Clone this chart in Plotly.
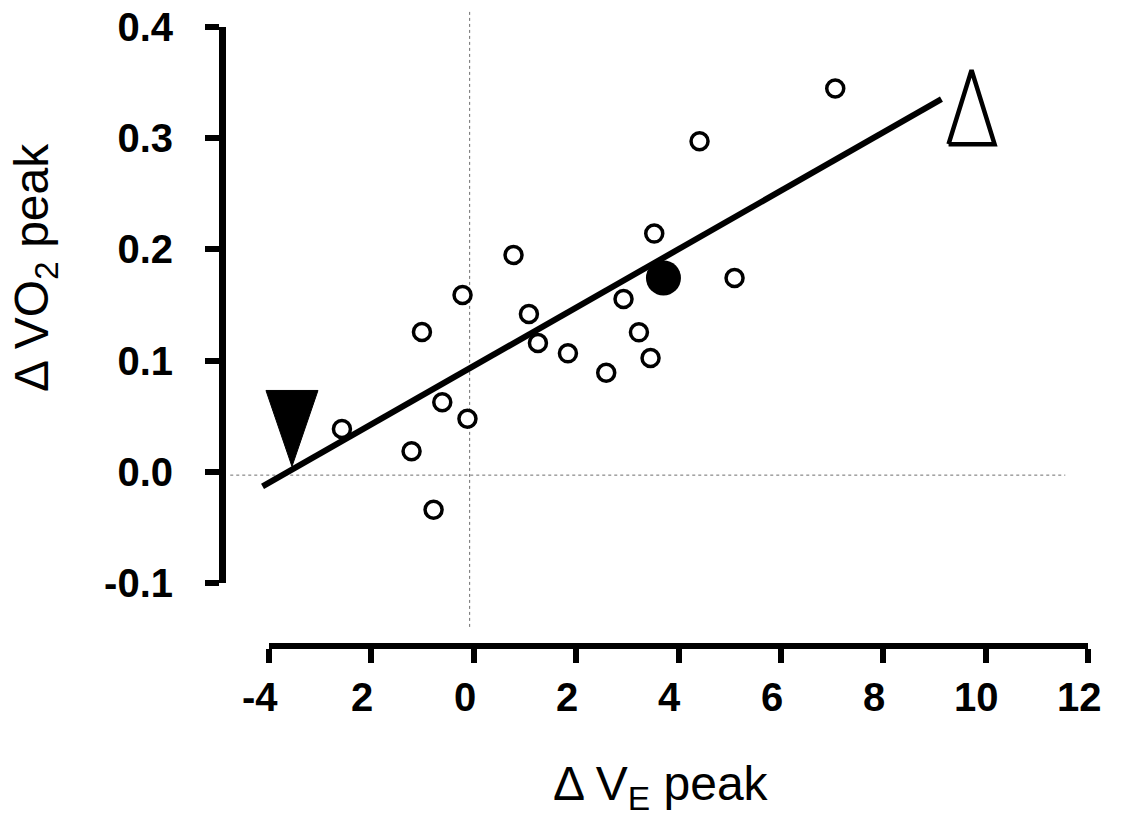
import plotly.graph_objects as go

# ---------------- data ----------------
open_x = [-2.575, -1.215, -0.785, -1.012, -0.615, -0.123, -0.219, 0.777, 1.078, 1.254,
          1.840, 2.588, 2.926, 3.227, 3.454, 3.526, 4.411, 5.095, 7.062]
open_y = [0.0384, 0.0185, -0.0342, 0.1257, 0.0626, 0.0477, 0.159, 0.195, 0.1419, 0.1158,
          0.1065, 0.0891, 0.1554, 0.1254, 0.1023, 0.2142, 0.2973, 0.1743, 0.3447]
filled_x = [3.706]
filled_y = [0.1743]
fit_x = [-4.126, 9.137]
fit_y = [-0.0132, 0.3351]
# apex positions of the two triangle symbols
tri_down_apex = (-3.551, 0.0048)
tri_up_apex = (9.725, 0.3612)
# dotted reference lines
vline_x = -0.08
vline_y = [-0.1395, 0.415]
hline_y = -0.003
hline_x = [-4.757, 11.556]

x_tickvals = [-4, -2, 0, 2, 4, 6, 8, 10, 12]
x_ticktext = ["-4", "2", "0", "2", "4", "6", "8", "10", "12"]
y_tickvals = [-0.1, 0.0, 0.1, 0.2, 0.3, 0.4]
y_ticktext = ["-0.1", "0.0", "0.1", "0.2", "0.3", "0.4"]

# ---------------- layout geometry (pixels) ----------------
W, H = 1123, 818
XPX0, XPX1 = 269, 1088      # pixel of x=-4 and x=12
YPX0, YPX1 = 583, 27        # pixel of y=-0.1 and y=0.4
XMIN, XMAX = -4, 12
YMIN, YMAX = -0.1, 0.4
sx = (XPX1 - XPX0) / (XMAX - XMIN)
sy = (YPX0 - YPX1) / (YMAX - YMIN)
main_xr = [XMIN - XPX0 / sx, XMAX + (W - XPX1) / sx]
main_yr = [YMIN - (H - YPX0) / sy, YMAX + YPX1 / sy]

FONT = "Liberation Sans, Arial, sans-serif"

def tri(apex, half_w_px, h_px, down):
    ax, ay = apex
    hw = half_w_px / sx
    hh = h_px / sy
    if down:
        return [ax - hw, ax + hw, ax, ax - hw], [ay + hh, ay + hh, ay, ay + hh]
    return [ax - hw, ax + hw, ax, ax - hw], [ay - hh, ay - hh, ay, ay - hh]

fig = go.Figure()

# dummy trace to create the display axes (drawn first / underneath)
fig.add_trace(go.Scatter(x=[None], y=[None], xaxis="x2", yaxis="y2",
                         mode="markers", showlegend=False, hoverinfo="skip"))

# dotted zero lines
fig.add_trace(go.Scatter(x=[vline_x, vline_x], y=vline_y, mode="lines",
                         line=dict(color="#6e6e6e", width=1, dash="dot"),
                         hoverinfo="skip", showlegend=False))
fig.add_trace(go.Scatter(x=hline_x, y=[hline_y, hline_y], mode="lines",
                         line=dict(color="#6e6e6e", width=1, dash="dot"),
                         hoverinfo="skip", showlegend=False))
# regression line
fig.add_trace(go.Scatter(x=fit_x, y=fit_y, mode="lines",
                         line=dict(color="black", width=6),
                         hoverinfo="skip", showlegend=False))
# open circles
fig.add_trace(go.Scatter(x=open_x, y=open_y, mode="markers",
                         marker=dict(symbol="circle", size=17, color="white",
                                     line=dict(color="black", width=3.5)),
                         showlegend=False))
# filled circle
fig.add_trace(go.Scatter(x=filled_x, y=filled_y, mode="markers",
                         marker=dict(symbol="circle", size=35, color="black",
                                     line=dict(color="black", width=0)),
                         showlegend=False))
# triangles
tx, ty = tri(tri_down_apex, 26, 76, True)
fig.add_trace(go.Scatter(x=tx, y=ty, mode="lines", fill="toself", fillcolor="black",
                         line=dict(color="black", width=1), hoverinfo="skip", showlegend=False))
tx, ty = tri(tri_up_apex, 23, 74, False)
fig.add_trace(go.Scatter(x=tx, y=ty, mode="lines", fill="toself", fillcolor="white",
                         line=dict(color="black", width=4.5), hoverinfo="skip", showlegend=False))

tickfont = dict(family=FONT, size=40, color="black", weight="bold")

# x tick labels as annotations (slightly left of each tick, as in the reference)
annotations = []
for v, t in zip(x_tickvals, x_ticktext):
    annotations.append(dict(text=t, xref="x2", yref="paper", x=v, y=(H - 697) / H,
                            xanchor="center", yanchor="middle", xshift=-9,
                            showarrow=False, font=tickfont))
annotations += [
    dict(text="Δ V<sub>E</sub> peak", xref="paper", yref="paper",
         x=661 / W, y=(H - 787) / H, xanchor="center", yanchor="middle",
         showarrow=False, font=dict(family=FONT, size=48, color="black")),
    dict(text="Δ VO<sub>2</sub> peak", xref="paper", yref="paper",
         x=35 / W, y=(H - 268) / H, xanchor="center", yanchor="middle",
         textangle=-90, showarrow=False, font=dict(family=FONT, size=48, color="black")),
]

fig.update_layout(
    width=W, height=H,
    margin=dict(l=0, r=0, t=0, b=0, autoexpand=False),
    paper_bgcolor="white", plot_bgcolor="rgba(0,0,0,0)",
    showlegend=False,
    xaxis=dict(domain=[0, 1], range=main_xr, visible=False, anchor="y", automargin=False),
    yaxis=dict(domain=[0, 1], range=main_yr, visible=False, anchor="x", automargin=False),
    xaxis2=dict(domain=[XPX0 / W, XPX1 / W], range=[XMIN, XMAX], anchor="free",
                position=(H - 646) / H, showline=True, linewidth=6, linecolor="black",
                ticks="outside", ticklen=14, tickwidth=6, tickcolor="black",
                tickvals=x_tickvals, showticklabels=False, showgrid=False, zeroline=False,
                automargin=False),
    yaxis2=dict(domain=[(H - YPX0) / H, (H - YPX1) / H], range=[YMIN, YMAX], anchor="free",
                position=222 / W, side="left", showline=True, linewidth=7, linecolor="black",
                ticks="outside", ticklen=14, tickwidth=6, tickcolor="black",
                tickvals=y_tickvals, ticktext=y_ticktext, showgrid=False, zeroline=False,
                tickfont=tickfont, ticklabelstandoff=24, automargin=False),
    annotations=annotations,
)

fig.write_html("out.html", config={"displayModeBar": False},
               post_script="document.body.style.margin='0px';")
